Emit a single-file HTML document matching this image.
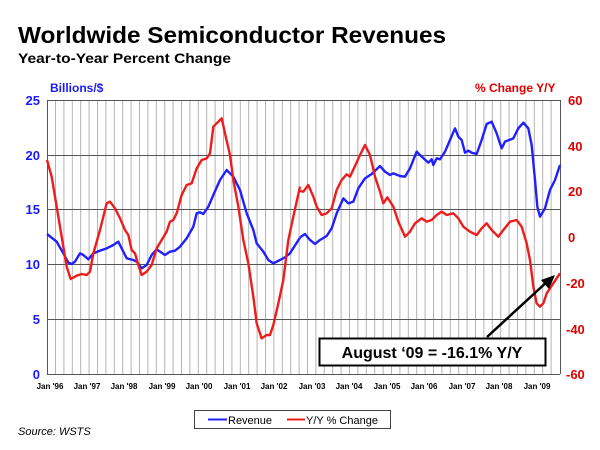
<!DOCTYPE html>
<html><head><meta charset="utf-8"><style>
html,body{margin:0;padding:0;background:#fff;}
svg{display:block;font-family:"Liberation Sans",Arial,sans-serif;}
</style></head><body>
<svg width="600" height="450" viewBox="0 0 600 450">
<rect width="600" height="450" fill="#fff"/>
<text x="18" y="43" font-size="23" font-weight="bold" fill="#000" textLength="428" lengthAdjust="spacingAndGlyphs">Worldwide Semiconductor Revenues</text>
<text x="18" y="63" font-size="14" font-weight="bold" fill="#000" textLength="213" lengthAdjust="spacingAndGlyphs">Year-to-Year Percent Change</text>
<text x="50" y="92" font-size="12" font-weight="bold" fill="#1a1aff">Billions/$</text>
<text x="475" y="92" font-size="12" font-weight="bold" fill="#e00000">%  Change  Y/Y</text>
<path stroke="#b4b4b4" stroke-width="1" fill="none" d="M55.5 100V374M63.9 100V374M72.3 100V374M80.7 100V374M89.1 100V374M97.5 100V374M105.9 100V374M114.3 100V374M122.7 100V374M131.1 100V374M139.5 100V374M147.9 100V374M156.3 100V374M164.7 100V374M173.1 100V374M181.5 100V374M189.9 100V374M198.3 100V374M206.7 100V374M215.1 100V374M223.5 100V374M231.9 100V374M240.3 100V374M248.7 100V374M257.1 100V374M265.5 100V374M273.9 100V374M282.3 100V374M290.7 100V374M299.1 100V374M307.5 100V374M315.9 100V374M324.3 100V374M332.7 100V374M341.1 100V374M349.5 100V374M357.9 100V374M366.3 100V374M374.7 100V374M383.1 100V374M391.5 100V374M399.9 100V374M408.3 100V374M416.7 100V374M425.1 100V374M433.5 100V374M441.9 100V374M450.3 100V374M458.7 100V374M467.1 100V374M475.5 100V374M483.9 100V374M492.3 100V374M500.7 100V374M509.1 100V374M517.5 100V374M525.9 100V374M534.3 100V374M542.7 100V374M551.1 100V374"/>
<g stroke="#555" stroke-width="1">
<line x1="47" y1="100.5" x2="560" y2="100.5"/>
<line x1="47" y1="155.5" x2="560" y2="155.5"/>
<line x1="47" y1="209.5" x2="560" y2="209.5"/>
<line x1="47" y1="264.5" x2="560" y2="264.5"/>
<line x1="47" y1="319.5" x2="560" y2="319.5"/>
<line x1="47.5" y1="100" x2="47.5" y2="374"/>
<line x1="560.5" y1="100" x2="560.5" y2="374"/>
<line x1="47" y1="374.5" x2="560" y2="374.5"/>
</g>
<g font-size="13" font-weight="bold" fill="#1a1aff" text-anchor="end">
<text x="40" y="105">25</text><text x="40" y="160">20</text><text x="40" y="214">15</text><text x="40" y="269">10</text><text x="40" y="324">5</text><text x="40" y="379">0</text>
</g>
<g font-size="13" font-weight="bold" fill="#e00000" text-anchor="start">
<text x="568" y="105">60</text><text x="568" y="151">40</text><text x="568" y="196">20</text><text x="568" y="242">0</text><text x="566" y="288">-20</text><text x="566" y="334">-40</text><text x="566" y="379">-60</text>
</g>
<g font-size="8" font-weight="bold" fill="#000" text-anchor="middle">
<text x="50" y="389">Jan '96</text><text x="87" y="389">Jan '97</text><text x="124" y="389">Jan '98</text><text x="162" y="389">Jan '99</text><text x="199" y="389">Jan '00</text><text x="237" y="389">Jan '01</text><text x="274" y="389">Jan '02</text><text x="312" y="389">Jan '03</text><text x="349" y="389">Jan '04</text><text x="387" y="389">Jan '05</text><text x="424" y="389">Jan '06</text><text x="462" y="389">Jan '07</text><text x="499" y="389">Jan '08</text><text x="537" y="389">Jan '09</text>
</g>
<g fill="none" stroke-width="2.4" stroke-linejoin="round">
<g transform="translate(0,80) scale(0.33333)">
<polyline vector-effect="non-scaling-stroke" stroke="#2020ff" points="141,462 170,485 190,520 205,548 215,552 225,545 240,520 250,525 265,538 280,520 300,512 320,505 340,495 355,485 365,505 380,535 400,540 410,545 425,565 440,555 455,525 470,508 480,515 495,525 510,515 525,512 540,500 560,475 580,440 590,400 600,397 610,402 625,380 640,345 660,300 680,270 700,290 720,330 740,400 760,450 770,490 790,515 805,540 820,550 840,540 855,532 870,520 900,473"/>
<polyline vector-effect="non-scaling-stroke" stroke="#ee1c1c" points="141,240 155,290 170,380 185,470 200,560 212,597 230,587 245,582 260,585 270,575 280,520 300,450 320,370 330,365 345,385 360,415 375,450 385,465 395,510 405,520 415,555 425,585 440,575 455,555 470,505 485,480 500,455 510,425 520,420 530,400 545,345 560,315 575,310 590,265 605,240 620,235 630,220 640,140 655,125 665,115 675,160 690,225 700,300 715,380 730,480 745,550 760,650 770,730 785,775 800,765 810,765 820,735 835,670 850,600 865,480 880,410 900,320"/>
</g>
<g transform="translate(300,80) scale(0.33333)">
<polyline vector-effect="non-scaling-stroke" stroke="#2020ff" points="0,472 15,462 30,480 45,492 60,480 80,468 95,445 110,400 130,355 145,370 160,365 175,325 195,295 215,282 240,258 255,275 270,285 280,280 300,288 315,290 330,265 350,215 365,230 385,248 395,238 400,255 410,235 420,238 435,215 450,180 465,145 475,170 485,180 495,218 505,212 515,218 530,222 545,180 560,132 575,125 590,160 605,205 615,185 640,175 655,145 670,128 685,145 695,195 705,300 712,380 720,410 735,385 750,330 765,300 780,255"/>
<polyline vector-effect="non-scaling-stroke" stroke="#ee1c1c" points="0,333 10,335 25,315 40,350 50,380 65,405 80,400 95,385 110,330 125,300 140,283 150,290 165,258 180,225 195,195 210,225 225,290 240,335 250,370 262,352 280,380 295,425 315,470 330,455 345,430 365,415 380,425 395,420 410,405 425,395 440,405 460,400 475,415 490,440 510,455 530,465 545,445 560,430 575,450 595,470 610,450 630,425 650,420 665,440 680,490 690,540 700,620 710,670 720,680 730,670 740,640 760,610 780,580"/>
</g>
</g>
<line x1="487" y1="337" x2="549" y2="280" stroke="#000" stroke-width="2.5"/>
<polygon points="555,275 541,280 549,289" fill="#000"/>
<rect x="319.5" y="338.5" width="226" height="27" fill="#fff" stroke="#000" stroke-width="2"/>
<text x="432" y="358" font-size="16" font-weight="bold" text-anchor="middle" fill="#000">August ‘09 = -16.1% Y/Y</text>
<rect x="194.5" y="410.5" width="196" height="18" fill="#fff" stroke="#444" stroke-width="1"/>
<line x1="208" y1="419.5" x2="227" y2="419.5" stroke="#2020ff" stroke-width="2"/>
<text x="228" y="424" font-size="11" fill="#000">Revenue</text>
<line x1="287" y1="419.5" x2="305" y2="419.5" stroke="#ee1c1c" stroke-width="2"/>
<text x="306" y="424" font-size="11" fill="#000">Y/Y % Change</text>
<text x="18" y="435" font-size="11" font-style="italic" fill="#000">Source: WSTS</text>
</svg>
</body></html>
